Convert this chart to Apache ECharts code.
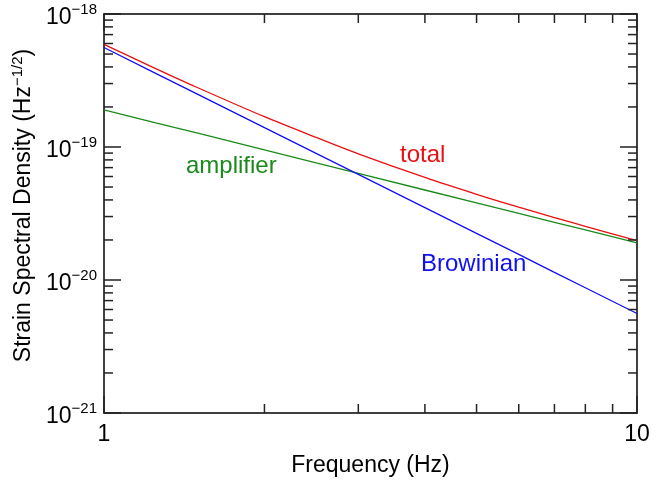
<!DOCTYPE html>
<html>
<head>
<meta charset="utf-8">
<script src="https://cdn.jsdelivr.net/npm/echarts@6/dist/echarts.min.js"></script>
<style>
    html, body { margin: 0; padding: 0; background: #fff; }
    #chart { width: 667px; height: 485px; }
</style>
</head>
<body>
<div id="chart"></div>
<script>
// 读图得到的数据
var freq = [1, 1.25, 1.5, 2, 2.5, 3, 4, 5, 6, 7, 8, 10];
var totalVals = [5.91e-19, 3.89e-19, 2.79e-19, 1.69e-19, 1.18e-19, 8.88e-20, 5.9e-20, 4.41e-20, 3.53e-20, 2.95e-20, 2.53e-20, 1.98e-20];
var brownVals = [5.6e-19, 3.58e-19, 2.49e-19, 1.4e-19, 8.96e-20, 6.22e-20, 3.5e-20, 2.24e-20, 1.56e-20, 1.14e-20, 8.75e-21, 5.6e-21];
var ampVals = [1.9e-19, 1.52e-19, 1.27e-19, 9.5e-20, 7.6e-20, 6.33e-20, 4.75e-20, 3.8e-20, 3.17e-20, 2.71e-20, 2.38e-20, 1.9e-20];

// 太小的数在对数轴上会出问题，先换成 1e-21 为单位
var yUnitExp = -21;
var yUnit = 1e-21;

var xMin = 1, xMax = 10;
var yMin = 1, yMax = 1000;
var minorMult = [2, 3, 4, 5, 6, 7, 8, 9];

function pairs(xs, ys) {
    return xs.map(function (x, i) { return [x, ys[i] / yUnit]; });
}

// 次刻度
var minorData = [];
minorMult.forEach(function (m) {
    minorData.push([m, yMin, 0]);
});
[1, 10, 100].forEach(function (d) {
    minorMult.forEach(function (m) {
        minorData.push([xMin, m * d, 1]);
    });
});

var font = 'Liberation Sans, Arial, sans-serif';
var tickLen = 9;

function renderMinor(params, api) {
    var isY = api.value(2) === 1;
    var style = { stroke: '#222', lineWidth: 1.5 };
    var a, b;
    if (isY) {
        a = api.coord([xMin, api.value(1)]);
        b = api.coord([xMax, api.value(1)]);
        return {
            type: 'group',
            children: [
                { type: 'line', shape: { x1: a[0], y1: a[1], x2: a[0] + tickLen, y2: a[1] }, style: style },
                { type: 'line', shape: { x1: b[0], y1: b[1], x2: b[0] - tickLen, y2: b[1] }, style: style }
            ]
        };
    }
    a = api.coord([api.value(0), yMin]);
    b = api.coord([api.value(0), yMax]);
    return {
        type: 'group',
        children: [
            { type: 'line', shape: { x1: a[0], y1: a[1], x2: a[0], y2: a[1] - tickLen }, style: style },
            { type: 'line', shape: { x1: b[0], y1: b[1], x2: b[0], y2: b[1] + tickLen }, style: style }
        ]
    };
}

var axisLine = { show: true, lineStyle: { color: '#000', width: 1.5 } };
var majorTick = { show: true, inside: true, length: 17, lineStyle: { color: '#222', width: 1.5 } };

var myChart = echarts.init(document.getElementById('chart'));
myChart.setOption({
    animation: false,
    grid: { left: 104, right: 30, top: 14, bottom: 72 },
    xAxis: [{
        type: 'log', logBase: 10, min: xMin, max: xMax,
        name: 'Frequency (Hz)', nameLocation: 'middle', nameGap: 41,
        nameTextStyle: { fontFamily: font, fontSize: 23, color: '#000' },
        axisLine: axisLine, axisTick: majorTick, splitLine: { show: false },
        axisLabel: {
            fontFamily: font, fontSize: 23, color: '#000', margin: 10,
            formatter: function (v) { return String(Math.round(v)); }
        }
    }, {
        type: 'log', logBase: 10, min: xMin, max: xMax, position: 'top',
        axisLine: axisLine, axisTick: majorTick, splitLine: { show: false },
        axisLabel: { show: false }
    }],
    yAxis: [{
        type: 'log', logBase: 10, min: yMin, max: yMax,
        name: '{n|Strain Spectral Density (Hz}{s|\u22121/2}{n|)}',
        nameLocation: 'middle', nameGap: 66,
        nameTextStyle: {
            color: '#000',
            padding: [0, 0, 0, 16],
            rich: {
                n: { fontFamily: font, fontSize: 23, color: '#000' },
                s: { fontFamily: font, fontSize: 15, color: '#000', padding: [0, 0, 11, 0] }
            }
        },
        axisLine: axisLine, axisTick: majorTick, splitLine: { show: false },
        axisLabel: {
            margin: 7,
            formatter: function (v) {
                var e = Math.round(Math.log10(v)) + yUnitExp;
                return '{b|10}{s|\u2212' + (-e) + '}';
            },
            rich: {
                b: { fontFamily: font, fontSize: 23, color: '#000', padding: [8, 0, 0, 0] },
                s: { fontFamily: font, fontSize: 15, color: '#000', padding: [0, 0, 8, 0] }
            }
        }
    }, {
        type: 'log', logBase: 10, min: yMin, max: yMax, position: 'right',
        axisLine: axisLine, axisTick: majorTick, splitLine: { show: false },
        axisLabel: { show: false }
    }],
    graphic: [
        { type: 'text', left: 400, top: 143, style: { text: 'total', font: '24px ' + font, fill: '#e81010' } },
        { type: 'text', left: 186, top: 154, style: { text: 'amplifier', font: '24px ' + font, fill: '#1a8a1a' } },
        { type: 'text', left: 421, top: 252, style: { text: 'Browinian', font: '24px ' + font, fill: '#1010ee' } }
    ],
    series: [{
        name: 'amplifier', type: 'line', data: pairs(freq, ampVals),
        showSymbol: false, lineStyle: { color: '#1a8a1a', width: 1.3 }
    }, {
        name: 'Browinian', type: 'line', data: pairs(freq, brownVals),
        showSymbol: false, lineStyle: { color: '#1010ee', width: 1.3 }
    }, {
        name: 'total', type: 'line', data: pairs(freq, totalVals), smooth: 0.3,
        showSymbol: false, lineStyle: { color: '#e81010', width: 1.3 }
    }, {
        type: 'custom', silent: true, clip: false,
        renderItem: renderMinor, data: minorData, z: 5
    }]
});
</script>
</body>
</html>
